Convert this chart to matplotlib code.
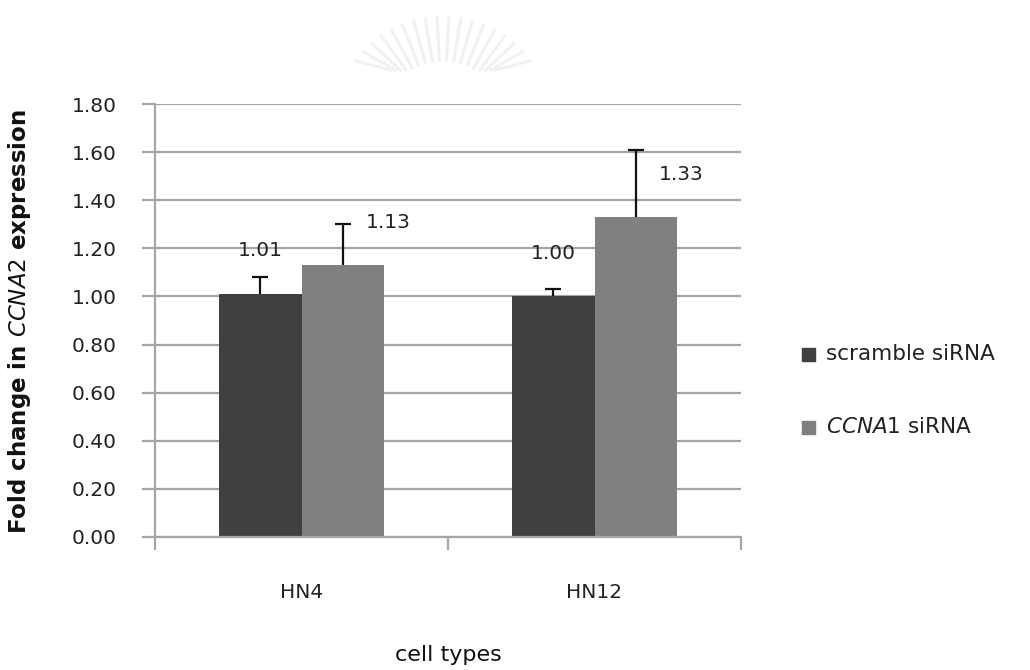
import numpy as np
import matplotlib
matplotlib.use("Agg")
import matplotlib.pyplot as plt
from matplotlib.patches import Rectangle
from matplotlib.lines import Line2D

cells = ["HN4", "HN12"]
series = ["scramble siRNA", "CCNA1 siRNA"]
scramble = [1.01, 1.00]
scramble_err = [0.07, 0.03]
ccna1 = [1.13, 1.33]
ccna1_err = [0.17, 0.28]
yticks = [0.0, 0.2, 0.4, 0.6, 0.8, 1.0, 1.2, 1.4, 1.6, 1.8]

dark = "#404040"
light = "#808080"
grid_col = "#a6a6a6"
txt = "#222222"

plt.rcParams['font.family'] = ['DejaVu Sans']

fig = plt.figure(figsize=(10.3, 6.7), dpi=100)

# faint watermark (sunburst) at the top of the page
for ang in np.linspace(30, 150, 20):
    a = np.radians(ang)
    cx, cy = 443, 125
    x0, y0 = cx + 65 * np.cos(a), cy - 65 * np.sin(a)
    x1, y1 = cx + 108 * np.cos(a), cy - 108 * np.sin(a)
    y0, y1 = min(y0, 70), min(y1, 70)
    if y0 - y1 < 3:
        continue
    fig.lines.append(Line2D([x0 / 1030, x1 / 1030], [1 - y0 / 670, 1 - y1 / 670],
                            transform=fig.transFigure, color="#f1f1f1", linewidth=2.2))

ax = fig.add_axes([155 / 1030, 1 - 537 / 670, (741 - 155) / 1030, (537 - 104) / 670])

x = np.arange(len(cells))
w = 0.28
b1 = ax.bar(x - w / 2, scramble, w, color=dark, zorder=3)
b2 = ax.bar(x + w / 2, ccna1, w, color=light, zorder=3)

# upper error bars only, lower caps hidden
for xs, vals, errs in [(x - w / 2, scramble, scramble_err), (x + w / 2, ccna1, ccna1_err)]:
    eb = ax.errorbar(xs, vals, yerr=[np.zeros(len(x)), errs], fmt="none",
                     ecolor="#111111", elinewidth=1.6, capsize=6, capthick=1.6, zorder=4)
    eb[1][0].set_visible(False)

# value labels
for xi, v in zip(x - w / 2, scramble):
    ax.annotate(f"{v:.2f}", (xi, v), xytext=(0, 31), textcoords="offset points",
                ha="center", va="center", fontsize=14.5, color=txt)
for xi, v in zip(x + w / 2, ccna1):
    ax.annotate(f"{v:.2f}", (xi, v), xytext=(33, 31), textcoords="offset points",
                ha="center", va="center", fontsize=14.5, color=txt)

ax.set_xlim(-0.5, 1.5)
ax.set_ylim(0, 1.8)
ax.set_yticks(yticks)
ax.set_yticklabels([f"{t:.2f}" for t in yticks])
ax.yaxis.grid(True, color=grid_col, linewidth=1.6, zorder=0)
ax.set_axisbelow(True)

# category boundaries as ticks, names in the middle
ax.set_xticks([-0.5, 0.5, 1.5])
ax.set_xticklabels(["", "", ""])
ax.set_xticks(x, minor=True)
ax.set_xticklabels(cells, minor=True)
ax.tick_params(axis="x", which="major", length=9.5, width=1.6, color=grid_col)
ax.tick_params(axis="x", which="minor", length=0, pad=33, labelsize=14.5, labelcolor=txt)
ax.tick_params(axis="y", length=9.5, width=1.6, color=grid_col, pad=18,
               labelsize=14.5, labelcolor=txt)

for s in ["top", "right"]:
    ax.spines[s].set_visible(False)
for s in ["left", "bottom"]:
    ax.spines[s].set_color(grid_col)
    ax.spines[s].set_linewidth(1.6)
ax.spines["bottom"].set_zorder(5)

fig.text(20 / 1030, 1 - 322 / 670, r"Fold change in $\mathit{CCNA2}$ expression",
         rotation=90, ha="center", va="center", fontsize=16.5, fontweight="bold", color="#111111")
fig.text(448 / 1030, 1 - 655 / 670, "cell types", ha="center", va="center",
         fontsize=16, color="#111111")

# legend drawn by hand to match the original layout
leg_rows = [(b1, series[0], 354), (b2, r"$\mathit{CCNA1}$ siRNA", 427)]
for bar, label, yc in leg_rows:
    fig.patches.append(Rectangle((802 / 1030, 1 - (yc + 6.5) / 670), 13 / 1030, 13 / 670,
                                 transform=fig.transFigure, figure=fig,
                                 color=bar.patches[0].get_facecolor()))
    fig.text(826 / 1030, 1 - yc / 670, label, ha="left", va="center",
             fontsize=15.5, color=txt)

fig.savefig("out.png", dpi=100)
